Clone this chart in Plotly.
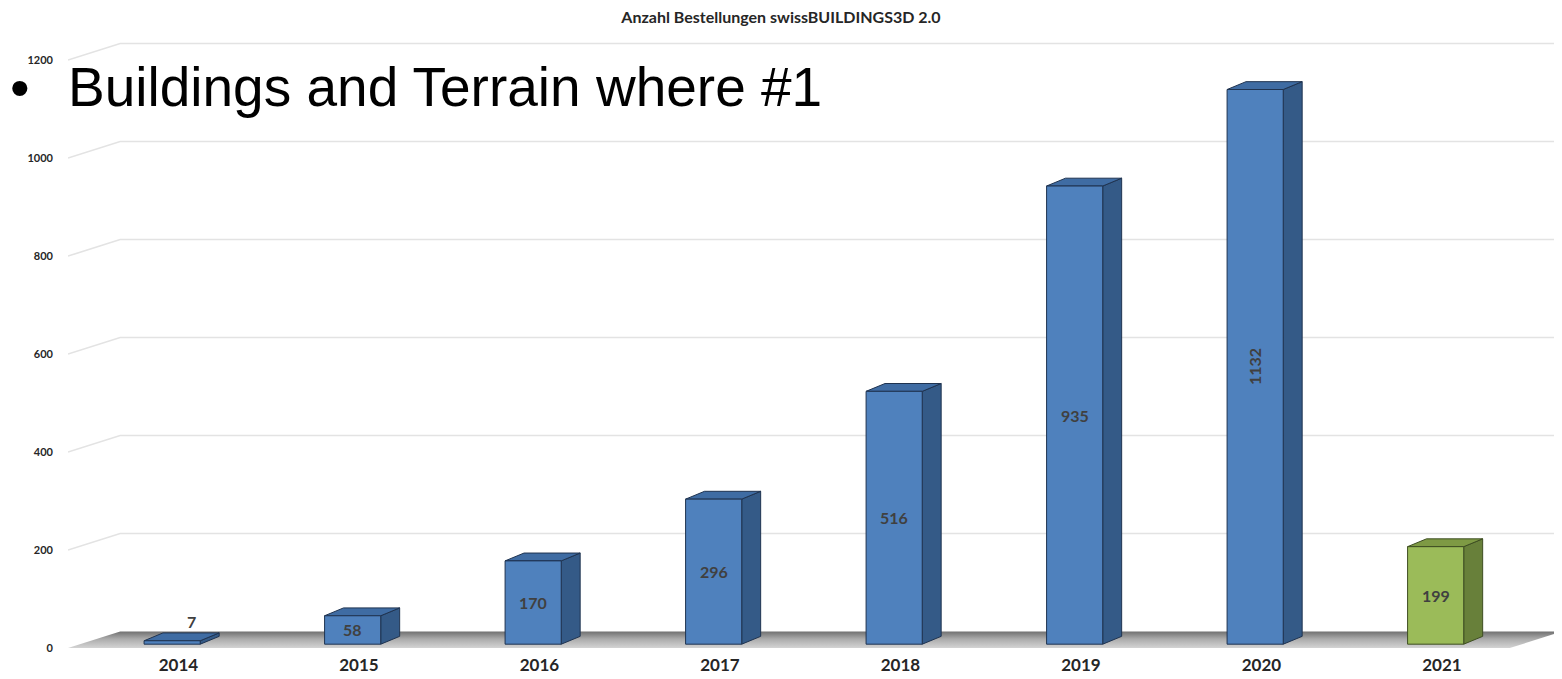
import plotly.graph_objects as go

# ---------------- data ----------------
years = ["2014", "2015", "2016", "2017", "2018", "2019", "2020", "2021"]
orders = [7, 58, 170, 296, 516, 935, 1132, 199]
highlight_years = ["2021"]
y_ticks = [0, 200, 400, 600, 800, 1000, 1200]
title_text = "Anzahl Bestellungen swissBUILDINGS3D 2.0"
overlay_text = "Buildings and Terrain where #1"

# ---------------- style ----------------
BLUE = dict(front="#4F81BD", side="#345A87", top="#3F6CA3", edge="#1F3350")
GREEN = dict(front="#9BBB59", side="#68803A", top="#7E9A44", edge="#3E4E22")
FONT = "Lato, Open Sans, sans-serif"
PAGE_OFF = 8                      # default body margin of the html page
W, H = 1562 - PAGE_OFF, 679 - PAGE_OFF
ML, MR, MT, MB = 68 - PAGE_OFF, 0, 16 - PAGE_OFF, 26
PW, PH = W - ML - MR, H - MT - MB
X_RANGE = [-0.612, 7.665]
Y_RANGE = [-10, 1290]

bar_w = 0.311          # front face width (category units)
bar_shift = -0.035     # front face centre relative to category
bar_dx, bar_dy = 0.105, 16   # bar depth offset
lift = 8               # bars stand slightly behind front edge of floor
wall_dx, wall_dy = 0.289, 34  # back-wall depth offset

fig = go.Figure()

# floor (gradient)
x0, x1 = X_RANGE
fig.add_trace(go.Scatter(
    x=[x0, x0 + wall_dx, x1, x1 - wall_dx, x0],
    y=[0, wall_dy, wall_dy, 0, 0],
    mode="lines", fill="toself", line=dict(width=0),
    fillgradient=dict(type="vertical",
                      colorscale=[[0, "#d4d4d4"], [0.55, "#ababab"], [1, "#707070"]]),
    hoverinfo="skip", showlegend=False))

# gridlines on back wall
for v in y_ticks[1:]:
    fig.add_trace(go.Scatter(
        x=[x0, x0 + wall_dx, x1], y=[v, v + wall_dy, v + wall_dy],
        mode="lines", line=dict(color="#e3e3e3", width=1.6),
        hoverinfo="skip", showlegend=False))


def poly_trace(xs, ys, fill, edge):
    return go.Scatter(x=xs, y=ys, mode="lines", fill="toself", fillcolor=fill,
                      line=dict(color=edge, width=1), hoverinfo="skip",
                      showlegend=False)


# bars as 3D boxes
for i, (yr, v) in enumerate(zip(years, orders)):
    c = GREEN if yr in highlight_years else BLUE
    xl = i + bar_shift - bar_w / 2
    xr = xl + bar_w
    yb, yt = lift, lift + v
    fig.add_trace(poly_trace([xr, xr + bar_dx, xr + bar_dx, xr, xr],
                             [yb, yb + bar_dy, yt + bar_dy, yt, yb], c["side"], c["edge"]))
    fig.add_trace(poly_trace([xl, xl + bar_dx, xr + bar_dx, xr, xl],
                             [yt, yt + bar_dy, yt + bar_dy, yt, yt], c["top"], c["edge"]))
    fig.add_trace(poly_trace([xl, xr, xr, xl, xl],
                             [yb, yb, yt, yt, yb], c["front"], c["edge"]))

# value labels
annotations = []
label_font = dict(family=FONT, size=16, color="#404040", weight="bold")
for i, (yr, v) in enumerate(zip(years, orders)):
    txt = str(v)
    cx = i + bar_shift
    px_h = v * PH / (Y_RANGE[1] - Y_RANGE[0])
    if px_h < 20:
        annotations.append(dict(x=cx + bar_dx, y=lift + v + bar_dy, text=txt,
                                showarrow=False, yanchor="bottom", yshift=0,
                                font=label_font))
    else:
        annotations.append(dict(x=cx, y=lift + v / 2, text=txt, showarrow=False,
                                textangle=-90 if len(txt) > 3 else 0,
                                font=label_font))

# overlay slide text
annotations.append(dict(xref="paper", yref="paper", x=(66 - PAGE_OFF - ML) / PW,
                        y=1 - (87 - PAGE_OFF - MT) / PH, xanchor="left", yanchor="middle",
                        text=overlay_text, showarrow=False,
                        font=dict(family="Liberation Sans, Arial, sans-serif", size=55, color="#000000")))
annotations.append(dict(xref="paper", yref="paper", x=(20 - PAGE_OFF - ML) / PW,
                        y=1 - (88 - PAGE_OFF - MT) / PH, xanchor="center", yanchor="middle",
                        text="•", showarrow=False,
                        font=dict(family="Liberation Sans, Arial, sans-serif", size=56, color="#000000")))

fig.update_layout(
    width=W, height=H,
    margin=dict(l=ML, r=MR, t=MT, b=MB, autoexpand=False),
    plot_bgcolor="white", paper_bgcolor="white",
    showlegend=False,
    title=dict(text=title_text, x=0.5 - PAGE_OFF / 2 / W, xanchor="center",
               y=1 - 4 / H, yanchor="top", yref="container", pad=dict(t=0, b=0),
               font=dict(family=FONT, size=16, color="#262626", weight="bold")),
    annotations=annotations,
    xaxis=dict(range=X_RANGE, tickvals=list(range(len(years))), ticktext=years,
               showgrid=False, zeroline=False, showline=False, ticks="",
               tickfont=dict(family=FONT, size=17, color="#262626", weight="bold"),
               automargin=False),
    yaxis=dict(range=Y_RANGE, tickvals=y_ticks, showgrid=False, zeroline=False,
               showline=False, ticks="", ticklabelstandoff=14,
               tickfont=dict(family=FONT, size=11, color="#262626", weight="bold"),
               automargin=False),
)

fig.write_html("out.html")
